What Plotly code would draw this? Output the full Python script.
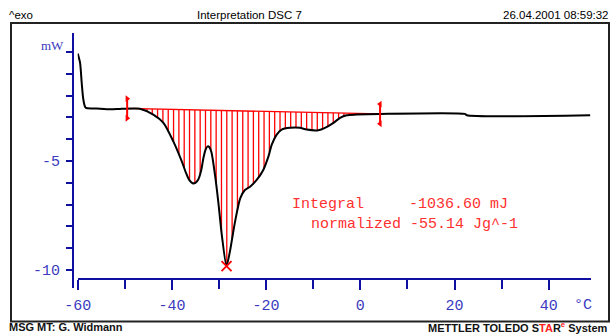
import numpy as np
import plotly.graph_objects as go

# ---- data ----
temp_c = [-60.0, -59.5, -59.15, -58.8, -58.3, -56.0, -53.0, -51.0, -48.0, -46.8,
          -43.95, -41.8, -39.7, -37.9, -37.0, -36.3, -35.6, -35.0, -34.4, -33.8,
          -33.3, -32.8, -32.4, -32.0, -31.6, -30.85, -30.15, -29.4, -28.4, -27.7,
          -26.6, -25.5, -24.5, -23.4, -22.0, -20.6, -19.5, -18.8, -17.75, -16.7,
          -14.9, -12.8, -11.4, -8.9, -7.5, -5.7, -4.3, -2.9, -0.8, 4.2, 22.2, 22.6, 48.8]
heat_flow_mw = [-0.07, -0.49, -1.41, -2.18, -2.56, -2.59, -2.63, -2.61, -2.59, -2.60,
                -2.87, -3.25, -4.10, -5.02, -5.55, -5.88, -6.02, -6.0, -5.85, -5.45,
                -4.85, -4.45, -4.33, -4.38, -4.6, -5.64, -6.87, -8.40, -9.82, -9.17,
                -7.79, -6.71, -6.33, -6.18, -5.87, -5.41, -4.79, -4.25, -3.79, -3.56,
                -3.48, -3.48, -3.56, -3.59, -3.48, -3.25, -3.02, -2.90, -2.87, -2.84,
                -2.84, -2.90, -2.90]
limits_c = [-49.5, 4.2]
limits_mw = [-2.59, -2.84]
peak = (-28.4, -9.82)
hatch_from, hatch_to, hatch_count = -45.3, 3.3, 44
x_ticks = [-60, -40, -20, 0, 20, 40]
x_labels = ["-60", "-40", "-20", "0", "20", "40"]
x_minor = [-50, -30, -10, 10, 30]
y_ticks = [-5, -10]
y_labels = ["-5", "-10"]
y_minor = [0, -1, -2, -3, -4, -6, -7, -8, -9]
integral_text = ["Integral\u00a0\u00a0\u00a0\u00a0\u00a0-1036.60 mJ",
                 "normalized -55.14 Jg^-1"]

# ---- layout geometry (pixels) ----
W, H = 612, 334
PL, PR, PT, PB = 73, 591, 33, 288
pw, ph = PR - PL, PB - PT


def px(x):
    return (x - PL) / pw


def py(y):
    return (PB - y) / ph


AXC = "#1010a0"
LBLC = "#3a3ac0"
RED = "#ff0000"
MONO = "Liberation Mono, Courier New, monospace"
NARROW = "Liberation Sans Narrow, Arial Narrow, Liberation Sans, sans-serif"

fig = go.Figure()

# hatch between baseline and curve
hx = np.linspace(hatch_from, hatch_to, hatch_count)
hb = np.interp(hx, limits_c, limits_mw)
hc = np.interp(hx, temp_c, heat_flow_mw)
xs, ys = [], []
for a, b, c in zip(hx, hb, hc):
    if c < b:
        xs += [a, a, None]
        ys += [b, c, None]
fig.add_trace(go.Scatter(x=xs, y=ys, mode="lines",
                         line=dict(color=RED, width=1.3), hoverinfo="skip"))
# baseline
fig.add_trace(go.Scatter(x=limits_c, y=limits_mw, mode="lines",
                         line=dict(color=RED, width=1.3), hoverinfo="skip"))
# curve
fig.add_trace(go.Scatter(x=temp_c, y=heat_flow_mw, mode="lines",
                         line=dict(color="black", width=2, shape="spline", smoothing=0.7)))
# limit markers
for lc, lm, sym in zip(limits_c, limits_mw, ["triangle-right", "triangle-left"]):
    fig.add_trace(go.Scatter(x=[lc, lc], y=[lm + 0.45, lm - 0.45], mode="lines+markers",
                             line=dict(color=RED, width=2),
                             marker=dict(symbol=sym, size=6, color=RED)))
# peak marker
fig.add_trace(go.Scatter(x=[peak[0]], y=[peak[1]], mode="markers",
                         marker=dict(symbol="x-thin", size=10,
                                     line=dict(color=RED, width=1.8))))

y_lo = -(PB - 52) / 21.8
y_hi = (52 - PT) / 21.8
x_lo = -60
x_hi = -60 + (PR - 77.7) / 4.71

fig.update_layout(
    width=W, height=H, showlegend=False,
    paper_bgcolor="white", plot_bgcolor="white",
    margin=dict(l=PL, r=W - PR, t=PT, b=H - PB),
    xaxis=dict(domain=[px(77.7), 1], range=[x_lo, x_hi], anchor="free",
               position=py(279), showgrid=False, zeroline=False,
               showline=True, linecolor=AXC, linewidth=2,
               tickmode="array", tickvals=x_ticks, ticktext=x_labels,
               ticks="outside", ticklen=10, tickwidth=2, tickcolor=AXC,
               minor=dict(tickmode="array", tickvals=x_minor, ticks="outside",
                          ticklen=9, tickwidth=2, tickcolor=AXC, showgrid=False),
               ticklabelstandoff=2,
               tickfont=dict(family=MONO, size=15, color=LBLC)),
    yaxis=dict(domain=[0, 1], range=[y_lo, y_hi], anchor="free", position=0,
               showgrid=False, zeroline=False,
               showline=True, linecolor=AXC, linewidth=2,
               tickmode="array", tickvals=y_ticks, ticktext=y_labels,
               ticks="outside", ticklen=6, tickwidth=2, tickcolor=AXC,
               minor=dict(tickmode="array", tickvals=y_minor, ticks="outside",
                          ticklen=6, tickwidth=2, tickcolor=AXC, showgrid=False),
               ticklabelstandoff=3,
               tickfont=dict(family=MONO, size=15, color=LBLC)),
)

# outer frame
fig.add_shape(type="rect", xref="paper", yref="paper",
              x0=px(11), x1=px(609), y0=py(321.5), y1=py(23),
              line=dict(color="#222222", width=2))


def ann(text, x, y, xanchor="left", font=None, yanchor="middle"):
    fig.add_annotation(text=text, xref="paper", yref="paper", x=px(x), y=py(y),
                       xanchor=xanchor, yanchor=yanchor, showarrow=False,
                       font=font, align="left")


hdr = dict(family=NARROW, size=11.5, color="black")
ann("^exo", 7, 15, font=hdr)
ann("Interpretation DSC 7", 249, 15, xanchor="center", font=hdr)
ann("26.04.2001 08:59:32", 611, 15, xanchor="right", font=hdr)
ftr = dict(family=NARROW, size=11, color="#111111")
ann("<b>MSG MT: G. Widmann</b>", 7, 327, font=ftr)
ann("<b>METTLER TOLEDO S<span style='color:#ff2020'>TA</span>R"
    "<sup><span style='color:#ff2020'>e</span></sup> System</b>", 610, 327,
    xanchor="right", font=ftr)

ann("mW", 52, 45, xanchor="center",
    font=dict(family="Liberation Serif, Times New Roman, serif", size=13, color=LBLC))
ann("°C", 583, 305, xanchor="center", font=dict(family=MONO, size=15, color=LBLC))

txtf = dict(family=MONO, size=15, color="#ff3030")
ann(integral_text[0], 290, 204, font=txtf)
ann(integral_text[1], 309, 224, font=txtf)

fig.write_html("out.html")
